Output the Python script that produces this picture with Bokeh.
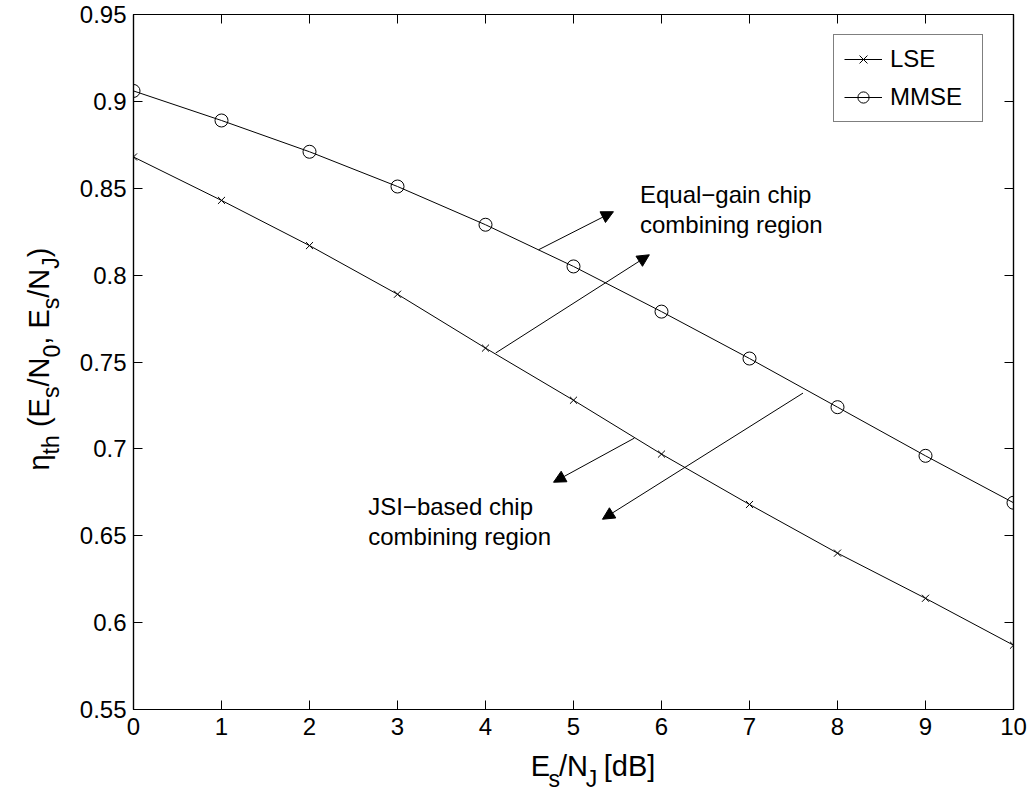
from bokeh.plotting import figure
from bokeh.models import (Arrow, NormalHead, Label, Legend, LegendItem, LinearAxis,
                          FixedTicker, Range1d, ColumnDataSource)
from bokeh.layouts import row, column
from bokeh.core.properties import value
from bokeh.embed import file_html
from bokeh.resources import INLINE
import math

# ---- data ----
esnj_db = [0, 1, 2, 3, 4, 5, 6, 7, 8, 9, 10]
lse = [0.868, 0.843, 0.817, 0.789, 0.758, 0.728, 0.697, 0.668, 0.640, 0.614, 0.587]
mmse = [0.906, 0.889, 0.871, 0.851, 0.829, 0.805, 0.779, 0.752, 0.724, 0.696, 0.669]
x_ticks = [0, 1, 2, 3, 4, 5, 6, 7, 8, 9, 10]
x_tick_labels = ["0", "1", "2", "3", "4", "5", "6", "7", "8", "9", "10"]
y_ticks = [0.55, 0.6, 0.65, 0.7, 0.75, 0.8, 0.85, 0.9, 0.95]
y_tick_labels = ["0.55", "0.6", "0.65", "0.7", "0.75", "0.8", "0.85", "0.9", "0.95"]

FONT = "Liberation Sans"
BIG, SUB = "29px", "23px"
# empirical correction: Bokeh places the "alphabetic" baseline ~0.4 em low
SH_BIG, SH_SUB, SH_TXT = 11.6, 9.2, 9.6

W_YLAB = 76          # width of the strip holding the y-axis title
H_MAIN = 748         # height of the main chart
W_MAIN = 1031 - W_YLAB
H_XLAB = 793 - H_MAIN

p = figure(width=W_MAIN, height=H_MAIN, output_backend="svg", toolbar_location=None,
           x_range=Range1d(0, 10), y_range=Range1d(0.55, 0.95),
           min_border_left=132 - W_YLAB, min_border_right=18, min_border_top=14,
           min_border_bottom=H_MAIN - 709, background_fill_color="white",
           border_fill_color="white", outline_line_color="black",
           outline_line_width=1.2)
p.grid.visible = False

def style_axis(ax, ticks, labels, show_labels=True):
    ax.ticker = FixedTicker(ticks=ticks)
    ax.major_label_overrides = {t: l for t, l in zip(ticks, labels)}
    ax.major_tick_in = 9
    ax.major_tick_out = 0
    ax.minor_tick_in = 0
    ax.minor_tick_out = 0
    ax.axis_line_color = "black"
    ax.axis_line_width = 1.2
    ax.major_tick_line_color = "black"
    ax.major_tick_line_width = 1
    ax.major_label_text_font = FONT
    if show_labels:
        ax.major_label_text_color = "black"
        ax.major_label_text_font_size = "24px"
    else:
        ax.major_label_text_color = None
        ax.major_label_text_font_size = "1px"
        ax.major_label_standoff = 0

style_axis(p.xaxis[0], x_ticks, x_tick_labels)
p.xaxis[0].major_label_standoff = 8
style_axis(p.yaxis[0], y_ticks, y_tick_labels)
p.yaxis[0].major_label_standoff = 7

top_ax = LinearAxis()
style_axis(top_ax, x_ticks, x_tick_labels, show_labels=False)
p.add_layout(top_ax, "above")
right_ax = LinearAxis()
style_axis(right_ax, y_ticks, y_tick_labels, show_labels=False)
p.add_layout(right_ax, "right")

src = ColumnDataSource(dict(x=esnj_db, lse=lse, mmse=mmse))
l1 = p.line("x", "lse", source=src, line_color="black", line_width=1)
m1 = p.scatter("x", "lse", source=src, marker="x", size=10, line_color="black", line_width=1)
l2 = p.line("x", "mmse", source=src, line_color="black", line_width=1)
m2 = p.scatter("x", "mmse", source=src, marker="circle", size=13, line_color="black",
               fill_color=None, line_width=1)

legend = Legend(items=[LegendItem(label="LSE", renderers=[l1, m1]),
                       LegendItem(label="MMSE", renderers=[l2, m2])],
                location=(700, 587), glyph_width=38, glyph_height=28, spacing=10,
                padding=10, margin=0, label_standoff=8, label_width=82,
                label_text_font=FONT, label_text_font_size="24px",
                label_text_color="black", border_line_color="black",
                border_line_width=1, background_fill_color="white",
                background_fill_alpha=1)
p.add_layout(legend, "center")

# ---- arrows ----
arrows = [
    (4.603, 0.8146, 5.454, 0.8365),
    (4.116, 0.7552, 5.862, 0.8117),
    (5.692, 0.7062, 4.773, 0.6808),
    (7.608, 0.7321, 5.329, 0.6595),
]
for xs, ys, xe, ye in arrows:
    p.add_layout(Arrow(x_start=xs, y_start=ys, x_end=xe, y_end=ye, line_width=1,
                       line_color="black",
                       end=NormalHead(size=12, fill_color="black", line_color="black",
                                      line_width=1)))

# ---- annotation texts ----
def txt(x, y, s):
    p.add_layout(Label(x=x, y=y, text=s, text_font=FONT, text_font_size="24px",
                       text_color="black", text_baseline="alphabetic",
                       text_align="left", y_offset=SH_TXT))

txt(5.755, 0.8411, "Equal\u2212gain chip")
txt(5.755, 0.8238, "combining region")
txt(2.667, 0.6612, "JSI\u2212based chip")
txt(2.667, 0.6440, "combining region")

# ---- strip figures for the axis titles (pixel coordinates) ----
def strip(w, h):
    f = figure(width=w, height=h, output_backend="svg", toolbar_location=None,
               x_range=Range1d(0, w), y_range=Range1d(0, h), min_border=0,
               x_axis_type=None, y_axis_type=None,
               outline_line_color=None, background_fill_color="white",
               border_fill_color="white")
    f.grid.visible = False
    return f

def put(f, xs, ys, texts, size, angle=0.0):
    f.text(x=xs, y=ys, text=texts, text_font=value(FONT), text_font_size=size,
           text_color="black", text_baseline="alphabetic", text_align="left",
           angle=angle)

# x title: E_s/N_J [dB]
xl = strip(W_MAIN, H_XLAB)
base_x = 793 - 777
put(xl, [507 - W_YLAB, 537.8 - W_YLAB, 586.4 - W_YLAB], [base_x + SH_BIG] * 3,
    ["E", "/N", "[dB]"], BIG)
put(xl, [526.3 - W_YLAB, 566.8 - W_YLAB], [base_x - 11 + SH_SUB] * 2, ["s", "J"], SUB)

# y title: eta_th (E_s/N_0, E_s/N_J)
yl = strip(W_YLAB, 793)
A = math.pi / 2
main_py = [470, 426.6, 416.9, 386.1, 344.3, 328.1, 297.3, 256.8]
main_tx = ["\u03b7", "(", "E", "/N", ",", "E", "/N", ")"]
sub_py = [453.9, 397.6, 357.1, 308.8, 268.3]
sub_tx = ["th", "s", "0", "s", "J"]
put(yl, [50 - SH_BIG] * len(main_py), [793 - v for v in main_py], main_tx, BIG, A)
put(yl, [60 - SH_SUB] * len(sub_py), [793 - v for v in sub_py], sub_tx, SUB, A)

layout = row(yl, column(p, xl, spacing=0), spacing=0)
open("out.html", "w").write(file_html(layout, INLINE))
